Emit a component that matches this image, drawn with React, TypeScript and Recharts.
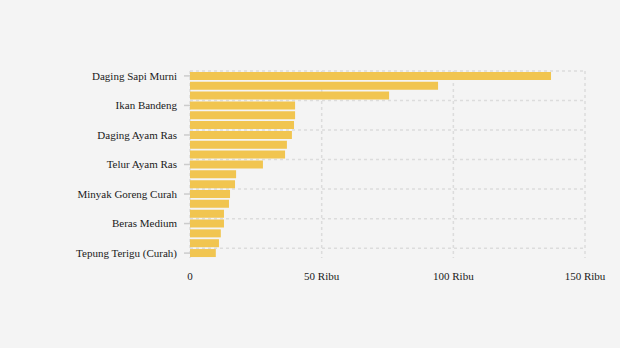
import { Bar, BarChart, CartesianGrid, XAxis, YAxis } from 'recharts'

const commodities = [
  'Daging Sapi Murni',
  'Cabai Rawit Merah',
  'Cabai Merah Keriting',
  'Ikan Bandeng',
  'Bawang Merah',
  'Ikan Tongkol',
  'Daging Ayam Ras',
  'Ikan Kembung',
  'Bawang Putih Bonggol',
  'Telur Ayam Ras',
  'Gula Konsumsi',
  'Minyak Goreng Kemasan',
  'Minyak Goreng Curah',
  'Beras Premium',
  'Kedelai Biji Kering',
  'Beras Medium',
  'Jagung',
  'Garam Konsumsi',
  'Tepung Terigu (Curah)',
]

const prices = [
  137100, 94200, 75600, 39900, 39900, 39500, 38700, 36800, 36100, 27700,
  17500, 17100, 15200, 14800, 12900, 12900, 11700, 11000, 9800,
]

const xTicks = [0, 50000, 100000, 150000]

const data = commodities.map((name, i) => ({ name, price: prices[i] }))

const FONT = '"Liberation Serif", "Times New Roman", serif'

function formatRibu(v: number): string {
  return v === 0 ? '0' : `${v / 1000} Ribu`
}

// grid rows sit on the top edge of every labelled (every third) category band
function rowLines({ offset }: any): number[] {
  const step = offset.height / commodities.length
  return commodities
    .map((_, i) => i)
    .filter((i) => i % 3 === 0)
    .map((i) => offset.top + i * step)
}

export default function App() {
  return (
    <div style={{ position: 'fixed', left: 0, top: 0, width: 620, height: 348, background: '#f4f4f4' }}>
      <BarChart
        width={620}
        height={348}
        data={data}
        layout="vertical"
        margin={{ top: 71, right: 35, left: 0, bottom: 60 }}
        barCategoryGap="9%"
      >
        <CartesianGrid
          stroke="#dcdcdc"
          strokeWidth={1.5}
          strokeDasharray="3 3"
          horizontalCoordinatesGenerator={rowLines}
        />
        <XAxis
          type="number"
          domain={[0, 150000]}
          ticks={xTicks}
          tickFormatter={formatRibu}
          axisLine={false}
          tickLine={false}
          tickSize={6}
          tickMargin={8}
          height={30}
          tick={{ fill: '#1a1a1a', fontSize: 11, fontFamily: FONT }}
        />
        <YAxis
          type="category"
          dataKey="name"
          interval={2}
          width={190}
          axisLine={false}
          tickLine={{ stroke: '#cccccc', strokeWidth: 1.5 }}
          tickSize={6}
          tickMargin={7}
          tick={{ fill: '#1a1a1a', fontSize: 11, fontFamily: FONT }}
        />
        <Bar dataKey="price" fill="#f1c550" isAnimationActive={false} />
      </BarChart>
    </div>
  )
}
